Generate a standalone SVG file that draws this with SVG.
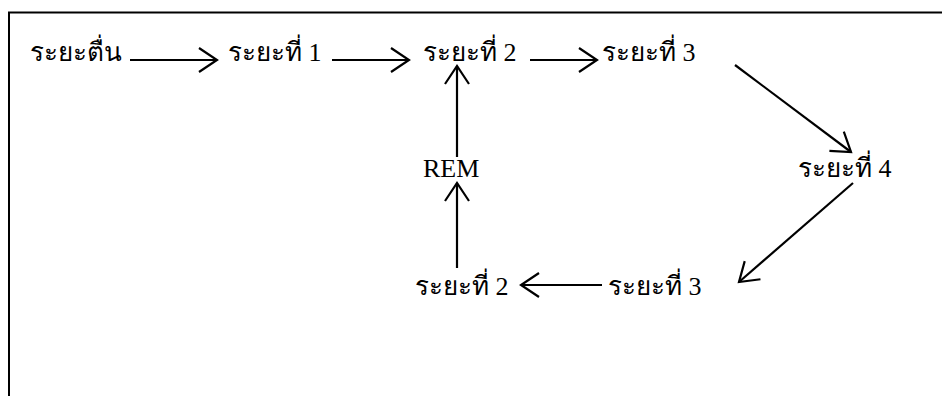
<svg xmlns="http://www.w3.org/2000/svg" width="942" height="396" viewBox="0 0 942 396">
<defs>
<style>
.t{font-family:"Liberation Serif","Times New Roman",serif;font-size:26px;fill:#000}
.c{stroke:#000;stroke-width:2.2;fill:none}
</style>
<marker id="ah" markerUnits="userSpaceOnUse" markerWidth="30" markerHeight="30" viewBox="-20 -15 22 30" refX="0" refY="0" orient="auto">
<path d="M-18,-12 L0,0 L-18,12" fill="none" stroke="#000" stroke-width="2.2"/>
</marker>
</defs>
<rect width="942" height="396" fill="#fff"/>
<g id="frame" stroke="#000" stroke-width="2" fill="none">
<path d="M9,396 V12.5 H942"/>
</g>
<g id="connectors">
<line class="c" x1="130" y1="60" x2="217" y2="60" marker-end="url(#ah)"/>
<line class="c" x1="332" y1="60" x2="409" y2="60" marker-end="url(#ah)"/>
<line class="c" x1="530" y1="60" x2="597" y2="60" marker-end="url(#ah)"/>
<line class="c" x1="735" y1="65" x2="851" y2="152" marker-end="url(#ah)"/>
<line class="c" x1="853" y1="183" x2="739" y2="282" marker-end="url(#ah)"/>
<line class="c" x1="602" y1="285" x2="521" y2="285" marker-end="url(#ah)"/>
<line class="c" x1="457" y1="268" x2="457" y2="183" marker-end="url(#ah)"/>
<line class="c" x1="457" y1="157" x2="457" y2="66" marker-end="url(#ah)"/>
</g>
<g id="n-wake"><text class="t" x="30" y="61">ระยะตื่น</text></g>
<g id="n-s1"><text class="t" x="228" y="61">ระยะที่ 1</text></g>
<g id="n-s2top"><text class="t" x="423" y="61">ระยะที่ 2</text></g>
<g id="n-s3top"><text class="t" x="602" y="61">ระยะที่ 3</text></g>
<g id="n-s4"><text class="t" x="798" y="177">ระยะที่ 4</text></g>
<g id="n-rem"><text class="t" x="423" y="177">REM</text></g>
<g id="n-s3bot"><text class="t" x="608" y="295">ระยะที่ 3</text></g>
<g id="n-s2bot"><text class="t" x="415" y="295">ระยะที่ 2</text></g>
</svg>
